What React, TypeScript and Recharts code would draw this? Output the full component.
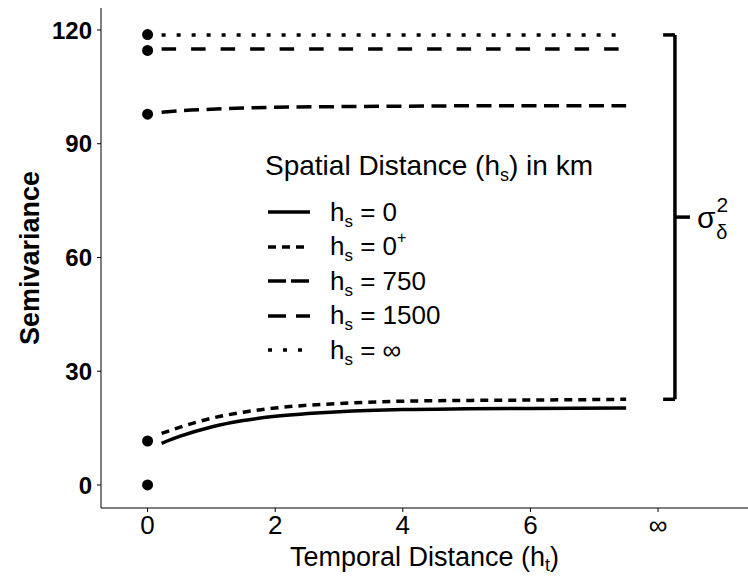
import {
  ComposedChart,
  Legend,
  Line,
  ReferenceLine,
  Scatter,
  XAxis,
  YAxis,
} from 'recharts'

const FONT = '"Liberation Sans", Arial, sans-serif'

const lagTimes = [0.22, 0.5, 1, 1.5, 2, 3, 4, 5, 6, 7.5]

// semivariance for each spatial distance
const semiZero = [11.0, 12.8, 15.3, 17.0, 18.1, 19.3, 19.9, 20.1, 20.2, 20.3]
const semiZeroPlus = [13.6, 15.2, 17.6, 19.2, 20.3, 21.5, 22.1, 22.3, 22.4, 22.6]
const semi750 = [98.3, 98.7, 99.1, 99.4, 99.6, 99.8, 99.9, 100.0, 100.0, 100.0]
const semi1500 = [115.0, 115.0, 115.0, 115.0, 115.0, 115.0, 115.0, 115.0, 115.0, 115.0]
const semiInf = [118.7, 118.7, 118.7, 118.7, 118.7, 118.7, 118.7, 118.7, 118.7, 118.7]

// values at lag 0 (nugget points)
const nuggetValues = [0, 11.6, 97.8, 114.6, 118.8]

const xTicks = [0, 2, 4, 6, 8]
const yTicks = [0, 30, 60, 90, 120]
const INF_TICK = 8

const legendLabels = ['0', '0', '750', '1500', '∞']
const legendSup = ['', '+', '', '', '']

const toSeries = (vals: number[]) => lagTimes.map((t, i) => ({ t, v: vals[i] }))
const nuggets = nuggetValues.map((v) => ({ t: 0, v }))

// bracket spans from the 0+ sill to the infinity sill
const bracketTop = semiInf[semiInf.length - 1]
const bracketBottom = semiZeroPlus[semiZeroPlus.length - 1]
const bracketMid = (bracketTop + bracketBottom) / 2

const seriesStyles = [
  { key: 'zero', data: semiZero, dash: undefined, legendDash: undefined },
  { key: 'zeroPlus', data: semiZeroPlus, dash: '8 6', legendDash: '8 6' },
  { key: 'd750', data: semi750, dash: '15 7.5', legendDash: '18 5' },
  { key: 'd1500', data: semi1500, dash: '14.5 15', legendDash: '18 10' },
  { key: 'inf', data: semiInf, dash: '4 11', legendDash: '4 11' },
]

const LegendBox = () => (
  <div style={{ fontFamily: FONT, color: '#000' }}>
    <div style={{ fontSize: 28, lineHeight: '36px', height: 36, marginBottom: 11, whiteSpace: 'nowrap' }}>
      Spatial Distance (h<span style={{ fontSize: 18, position: 'relative', top: 6 }}>s</span>) in km
    </div>
    {seriesStyles.map((s, i) => (
      <div key={s.key} style={{ display: 'flex', alignItems: 'center', height: 34.5 }}>
        <svg width={44} height={10} style={{ marginLeft: 3 }}>
          <line x1={0} x2={42} y1={5} y2={5} stroke='#000' strokeWidth={3.5} strokeDasharray={s.legendDash} />
        </svg>
        <span style={{ marginLeft: 18, fontSize: 26, whiteSpace: 'nowrap' }}>
          h<span style={{ fontSize: 17, position: 'relative', top: 6 }}>s</span>
          {' = '}
          {legendLabels[i]}
          {legendSup[i] && (
            <span style={{ fontSize: 16, position: 'relative', top: -12 }}>{legendSup[i]}</span>
          )}
        </span>
      </div>
    ))}
  </div>
)

const SigmaLabel = (props: any) => {
  const { viewBox } = props
  const x = viewBox.x + viewBox.width + 7
  const y = viewBox.y
  return (
    <text x={x} y={y + 11} fontSize={30} fontFamily={FONT} fill='#000'>
      σ
      <tspan dx={1} dy={-16} fontSize={21}>2</tspan>
      <tspan dx={-12} dy={27} fontSize={20}>δ</tspan>
    </text>
  )
}

const YTitle = (props: any) => {
  const { viewBox } = props
  const cy = viewBox.y + viewBox.height / 2
  return (
    <text
      x={30}
      y={cy}
      transform={`rotate(-90, 30, ${cy})`}
      textAnchor='middle'
      dominantBaseline='central'
      fontSize={27}
      fontWeight='bold'
      fontFamily={FONT}
      fill='#000'
    >
      Semivariance
    </text>
  )
}

const XTitle = (props: any) => {
  const { viewBox } = props
  const cx = viewBox.x + viewBox.width / 2
  return (
    <text x={cx} y={566} textAnchor='middle' fontSize={27} fontFamily={FONT} fill='#000'>
      Temporal Distance (h
      <tspan fontSize={18} dy={5}>t</tspan>
      <tspan dy={-5}>)</tspan>
    </text>
  )
}

export default function App() {
  return (
    <div style={{ position: 'absolute', left: 0, top: 0, background: '#fff' }}>
      <ComposedChart width={748} height={578} margin={{ top: 8, right: 0, bottom: 0, left: 0 }}>
        <XAxis
          type='number'
          dataKey='t'
          domain={[-0.73, 9.41]}
          ticks={xTicks}
          tickFormatter={(v) => (v === INF_TICK ? '∞' : `${v}`)}
          allowDataOverflow
          height={70}
          stroke='#000'
          tickSize={4}
          tickMargin={4}
          tick={{ fontSize: 26, fill: '#000', fontFamily: FONT }}
          label={<XTitle />}
        />
        <YAxis
          type='number'
          dataKey='v'
          domain={[-6.07, 125.8]}
          ticks={yTicks}
          allowDataOverflow
          width={101}
          stroke='#000'
          tickSize={4}
          tickMargin={5}
          tick={{ fontSize: 24, fill: '#000', fontFamily: FONT, fontWeight: 'bold' }}
          label={<YTitle />}
        />
        {seriesStyles.map((s) => (
          <Line
            key={s.key}
            data={toSeries(s.data)}
            dataKey='v'
            type='monotone'
            stroke='#000'
            strokeWidth={3.5}
            strokeDasharray={s.dash}
            dot={false}
            isAnimationActive={false}
            legendType='none'
          />
        ))}
        <Scatter
          data={nuggets}
          dataKey='v'
          fill='#000'
          shape={(p: any) => <circle cx={p.cx} cy={p.cy} r={5.5} fill='#000' />}
          isAnimationActive={false}
          legendType='none'
        />
        <ReferenceLine
          segment={[{ x: 8.08, y: bracketTop }, { x: 8.265, y: bracketTop }]}
          stroke='#000'
          strokeWidth={3.5}
        />
        <ReferenceLine
          segment={[{ x: 8.265, y: bracketTop }, { x: 8.265, y: bracketBottom }]}
          stroke='#000'
          strokeWidth={3.5}
        />
        <ReferenceLine
          segment={[{ x: 8.08, y: bracketBottom }, { x: 8.265, y: bracketBottom }]}
          stroke='#000'
          strokeWidth={3.5}
        />
        <ReferenceLine
          segment={[{ x: 8.265, y: bracketMid }, { x: 8.5, y: bracketMid }]}
          stroke='#000'
          strokeWidth={3.5}
          label={<SigmaLabel />}
        />
        <Legend
          layout='vertical'
          align='center'
          verticalAlign='middle'
          content={<LegendBox />}
          wrapperStyle={{ left: 265, top: 148, width: 400 }}
        />
      </ComposedChart>
    </div>
  )
}
